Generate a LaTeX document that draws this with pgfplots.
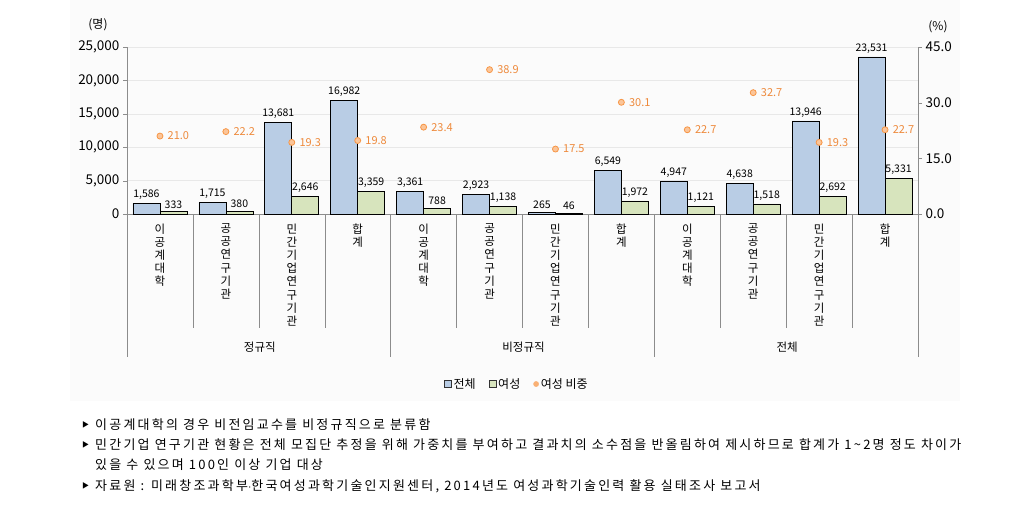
\documentclass[border=0pt]{standalone}
\usepackage{pgfplots}
\usepackage{pgfplotstable}
\pgfplotsset{compat=1.18}
\usepackage{fontspec}
\setmainfont{Noto Sans CJK KR}
\newfontfamily\notefont{Noto Sans CJK KR}[LetterSpace=17]
\definecolor{cblue}{HTML}{B9CDE5}
\definecolor{cgreen}{HTML}{D7E4BD}
\definecolor{corange}{HTML}{F79646}
\definecolor{ctext}{HTML}{EE8A3C}
\definecolor{caxis}{HTML}{8C8C8C}

\pgfplotstableread{
x total women pct
0 1586 333 21.0
1 1715 380 22.2
2 13681 2646 19.3
3 16982 3359 19.8
4 3361 788 23.4
5 2923 1138 38.9
6 265 46 17.5
7 6549 1972 30.1
8 4947 1121 22.7
9 4638 1518 32.7
10 13946 2692 19.3
11 23531 5331 22.7
}\datatable

\begin{document}
\begin{tikzpicture}[x=1pt,y=1pt]
\useasboundingbox (0,0) rectangle (1018,-515);
\fill[black!1.5] (70,0) rectangle (960,-401);
\begin{axis}[
  at={(127pt,-214pt)}, anchor=south west,
  scale only axis, width=791pt, height=167pt,
  xmin=-0.5, xmax=11.5, ymin=0, ymax=25000,
  axis x line*=bottom, axis y line*=left,
  axis line style={caxis},
  ybar=0pt, bar width=27pt,
  ytick={0,5000,10000,15000,20000,25000},
  scaled y ticks=false,
  yticklabel={\pgfmathprintnumber[fixed,precision=0,1000 sep={,},assume math mode=true]{\tick}},
  yticklabel style={font=\fontsize{13.5}{15}\selectfont},
  tick align=outside, major tick length=4pt,
  ytick style={caxis},
  xtick={0,...,11},
  xtick style={draw=none},
  xticklabels={{이\\공\\계\\대\\학},{공\\공\\연\\구\\기\\관},{민\\간\\기\\업\\연\\구\\기\\관},{합\\계},
               {이\\공\\계\\대\\학},{공\\공\\연\\구\\기\\관},{민\\간\\기\\업\\연\\구\\기\\관},{합\\계},
               {이\\공\\계\\대\\학},{공\\공\\연\\구\\기\\관},{민\\간\\기\\업\\연\\구\\기\\관},{합\\계}},
  xticklabel style={align=center, anchor=north, font=\fontsize{11.5}{13.2}\selectfont, yshift=-2pt},
  ymajorgrids, grid style={black!9},
  clip=false,
  nodes near coords={\pgfmathprintnumber[fixed,precision=0,1000 sep={,},assume math mode=true]{\pgfplotspointmeta}},
  nodes near coords style={font=\fontsize{10.5}{12}\selectfont, text=black},
]
\addplot[fill=cblue, draw=black, line width=0.6pt] table[x=x,y=total]{\datatable};
\addplot[fill=cgreen, draw=black, line width=0.6pt] table[x=x,y=women]{\datatable};
\end{axis}
\begin{axis}[
  at={(127pt,-214pt)}, anchor=south west,
  scale only axis, width=791pt, height=167pt,
  xmin=-0.5, xmax=11.5, ymin=0, ymax=45,
  axis x line=none, axis y line*=right,
  axis line style={caxis},
  xtick=\empty,
  ytick={0,15,30,45},
  yticklabel={\pgfmathprintnumber[fixed,fixed zerofill,precision=1,assume math mode=true]{\tick}},
  yticklabel style={font=\fontsize{13.5}{15}\selectfont},
  tick align=outside, major tick length=4pt,
  ytick style={caxis},
  clip=false,
  legend columns=3,
  legend style={draw=none, fill=none, at={(0.493,-1.018)}, anchor=center,
    font=\fontsize{12}{14}\selectfont,
    /tikz/every even column/.append style={column sep=11pt}},
]
\addlegendimage{legend image code/.code={\draw[fill=cblue,draw=black!80,line width=0.5pt] (0pt,-3.5pt) rectangle (7pt,3.5pt);}}
\addlegendimage{legend image code/.code={\draw[fill=cgreen,draw=black!80,line width=0.5pt] (0pt,-3.5pt) rectangle (7pt,3.5pt);}}
\addlegendimage{legend image code/.code={\fill[corange!75] (3.5pt,0pt) circle (2.6pt);}}
\addplot[only marks, mark=*, mark size=3pt, mark options={draw=corange, fill=corange!55, line width=0.8pt},
  point meta=y,
  nodes near coords={\pgfmathprintnumber[fixed,fixed zerofill,precision=1,assume math mode=true]{\pgfplotspointmeta}},
  nodes near coords style={anchor=west, xshift=4pt, text=ctext, font=\fontsize{11}{13}\selectfont},
  forget plot] table[x=x,y=pct]{\datatable};
\legend{전체,여성,여성 비중}
\end{axis}
\foreach \i in {1,2,3,5,6,7,9,10,11} \draw[caxis] ({127+\i*65.9167},-214) -- ++(0,-114);
\foreach \i in {0,4,8,12} \draw[caxis] ({127+\i*65.9167},-214) -- ++(0,-143);
\node[font=\fontsize{11.5}{13}\selectfont] at (259.8,-347) {정규직};
\node[font=\fontsize{11.5}{13}\selectfont] at (523.5,-347) {비정규직};
\node[font=\fontsize{11.5}{13}\selectfont] at (787.2,-347) {전체};
\node[font=\fontsize{12}{14}\selectfont] at (98,-25) {(명)};
\node[font=\fontsize{12}{14}\selectfont] at (938,-27) {(\%)};
\begin{scope}[every node/.style={anchor=west, inner sep=0pt, font=\notefont\fontsize{13}{15}\selectfont}]
\node[font=\fontsize{7}{8}\selectfont] at (82,-425) {▶};
\node at (95,-425) {이공계대학의 경우 비전임교수를 비정규직으로 분류함};
\node[font=\fontsize{7}{8}\selectfont] at (82,-445) {▶};
\node at (95,-445) {민간기업 연구기관 현황은 전체 모집단 추정을 위해 가중치를 부여하고 결과치의 소수점을 반올림하여 제시하므로 합계가 1\textasciitilde2명 정도 차이가};
\node at (95,-465) {있을 수 있으며 100인 이상 기업 대상};
\node[font=\fontsize{7}{8}\selectfont] at (82,-486) {▶};
\node at (95,-486) {자료원 : 미래창조과학부$\cdot$한국여성과학기술인지원센터, 2014년도 여성과학기술인력 활용 실태조사 보고서};
\end{scope}
\end{tikzpicture}
\end{document}
